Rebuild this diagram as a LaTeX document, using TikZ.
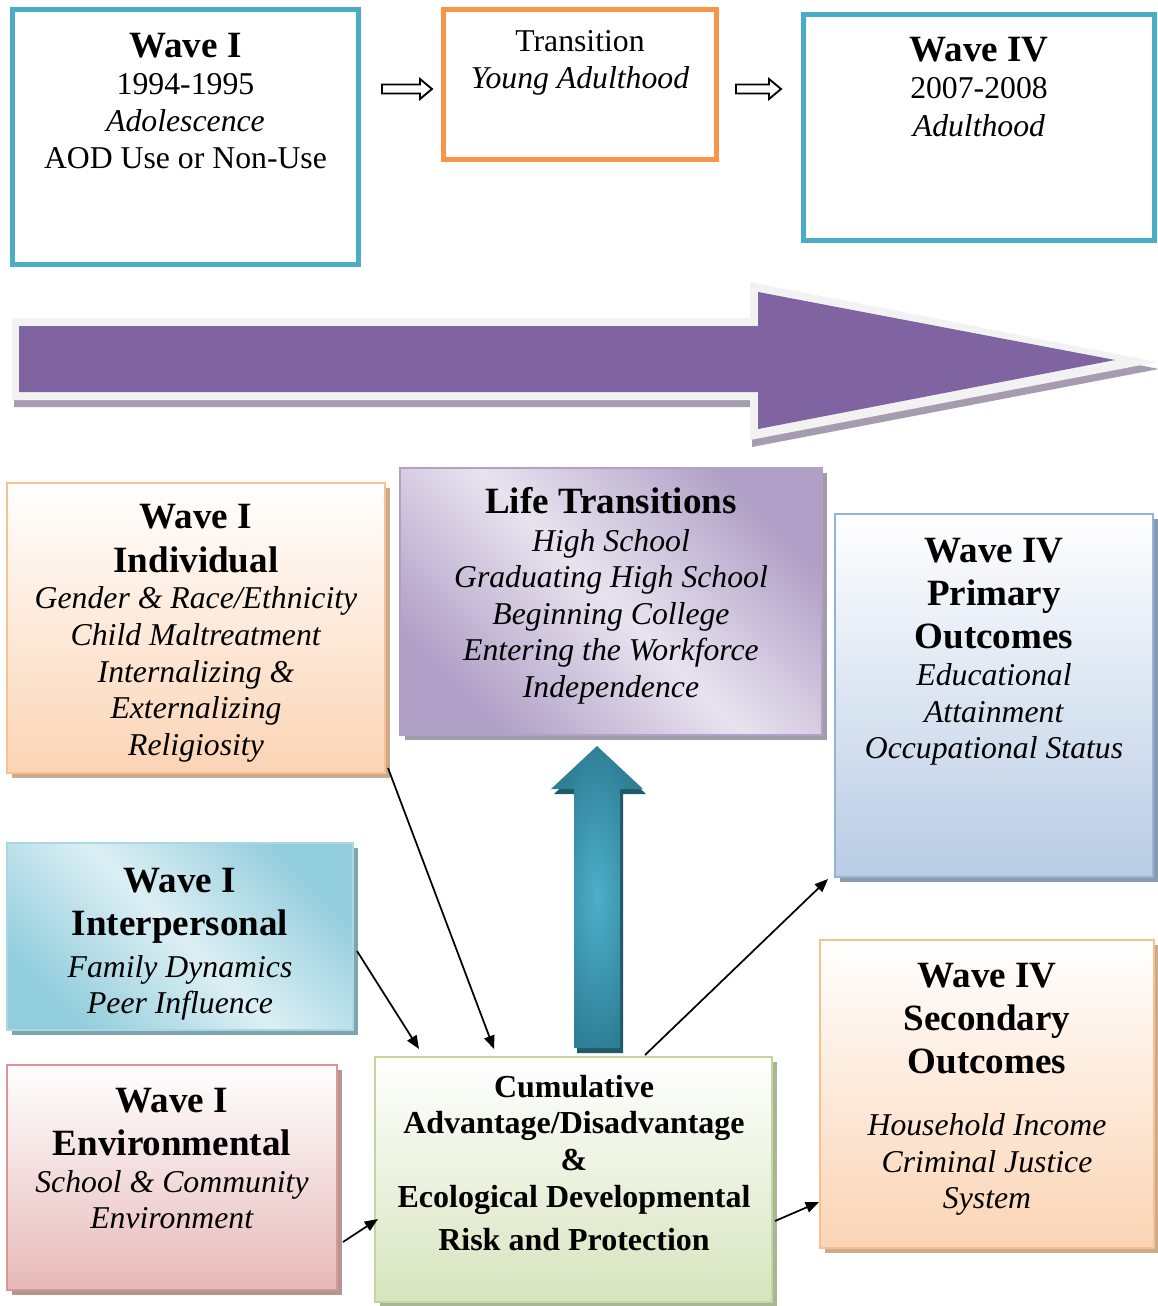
\documentclass[tikz,border=0pt]{standalone}
\usepackage{fontspec}
\setmainfont{Liberation Serif}
\usetikzlibrary{arrows.meta,shadows,fit}
\definecolor{tealB}{HTML}{4BACC6}
\definecolor{oranB}{HTML}{F79646}
\definecolor{purF}{HTML}{8064A2}
\definecolor{purO}{HTML}{F2F2F2}
\definecolor{purS}{HTML}{A59DAF}
\definecolor{indB}{HTML}{FAC090}
\definecolor{indF}{HTML}{FBD4B4}
\definecolor{indS}{HTML}{CDAA8C}
\definecolor{lifB}{HTML}{B2A1C7}
\definecolor{lifL}{HTML}{E8E3EF}
\definecolor{lifD}{HTML}{B09FC6}
\definecolor{lifS}{HTML}{A29BAA}
\definecolor{priB}{HTML}{95B3D7}
\definecolor{priF}{HTML}{B8CCE4}
\definecolor{priS}{HTML}{8C9AAE}
\definecolor{intB}{HTML}{A9D8E4}
\definecolor{intL}{HTML}{DCEFF4}
\definecolor{intD}{HTML}{92CDDC}
\definecolor{intS}{HTML}{80A4AE}
\definecolor{envB}{HTML}{D99694}
\definecolor{envF}{HTML}{E6B9B8}
\definecolor{envS}{HTML}{B39594}
\definecolor{cumB}{HTML}{C3D69B}
\definecolor{cumF}{HTML}{D7E4BD}
\definecolor{cumS}{HTML}{A9B596}
\definecolor{tealD}{HTML}{2F8097}
\definecolor{tealL}{HTML}{4DAFC9}
\definecolor{tealS}{HTML}{215968}
\newcommand\myHdr{\fontsize{27.8}{27.75}\selectfont\bfseries}
\newcommand\myBody{\fontsize{23.8}{27.75}\selectfont}
\newcommand\myCum{\fontsize{24}{27.75}\selectfont\bfseries}
\newcommand\tstr{\rule{0pt}{22pt}}
\begin{document}
\begin{tikzpicture}[x=0.75pt,y=-0.75pt,
  topbox/.style={line width=3.75pt, inner sep=0pt, outer sep=0pt, fill=white},
  lbox/.style={line width=1.6pt, inner sep=0pt, outer sep=0pt},
  shad/.style={drop shadow={shadow xshift=3.5pt, shadow yshift=-4pt, fill=#1, opacity=1}},
  txt/.style={align=center, inner sep=0pt, outer sep=0pt, anchor=north, font=\myBody},
  con/.style={line width=1.3pt, -{Triangle[length=10pt,width=8pt]}},
  hollow/.style={line width=1.4pt, draw=black, fill=white}]
\fill[white] (0,0) rectangle (1157,1306);
\useasboundingbox (0,0) rectangle (1157,1306);

% ---------- top row ----------
\node[topbox, draw=tealB, fit={(12.5,9.5)(358.5,264.5)}] (w1) {};
\node[topbox, draw=oranB, fit={(443.5,9.5)(716.5,159.5)}] (tr) {};
\node[topbox, draw=tealB, fit={(803.5,14.5)(1154.5,240.5)}] (w4) {};

\node[txt] (w1T) at (185.5,27.7) {\tstr{\myHdr Wave I}\\1994-1995\\\textit{Adolescence}\\AOD Use or Non-Use};
\node[txt] (trT) at (580,21.7) {\tstr Transition\\\textit{Young Adulthood}};
\node[txt] (w4T) at (979,31.7) {\tstr{\myHdr Wave IV}\\2007-2008\\[0.75pt]\textit{Adulthood}};

\draw[hollow] (382,84.5) -- (420,84.5) -- (420,79) -- (432,89) -- (420,99) -- (420,93.5) -- (382,93.5) -- cycle;
\draw[hollow] (736,84.5) -- (769,84.5) -- (769,79) -- (781,89) -- (769,99) -- (769,93.5) -- (736,93.5) -- cycle;

% ---------- big purple arrow ----------
\begin{scope}[shift={(2,7)}]
\fill[purS] (12,318) -- (750,318) -- (750,282) -- (1157,362) -- (750,440) -- (750,400) -- (12,400) -- cycle;
\end{scope}
\fill[purO] (12,318) -- (750,318) -- (750,282) -- (1157,362) -- (750,440) -- (750,400) -- (12,400) -- cycle;
\fill[purF] (19,326) -- (758,326) -- (758,292) -- (1115,360) -- (758,429) -- (758,392) -- (19,392) -- cycle;

% ---------- lower boxes ----------
\node[lbox, shad=indS, draw=indB, top color=white, bottom color=indF, fit={(7,483)(385,773)}] (ind) {};
\node[lbox, shad=lifS, draw=lifB, top color=lifD, bottom color=lifD, middle color=lifL, shading angle=-45, fit={(400,468)(822,735)}] (lif) {};
\node[lbox, shad=priS, draw=priB, top color=white, bottom color=priF, fit={(835,514)(1153,877)}] (pri) {};
\node[lbox, shad=intS, draw=intB, top color=intD, bottom color=intD, middle color=intL, shading angle=-45, fit={(7,843)(353,1030)}] (int) {};
\node[lbox, shad=envS, draw=envB, top color=white, bottom color=envF, fit={(7,1065)(337,1290)}] (env) {};
\node[lbox, shad=cumS, draw=cumB, top color=white, bottom color=cumF, fit={(375,1057)(772,1302)}] (cum) {};
\node[lbox, shad=indS, draw=indB, top color=white, bottom color=indF, fit={(820,940)(1154,1248)}] (sec) {};

\node[txt] (indT) at (196,498.7) {\tstr{\myHdr Wave I}\\[5.25pt]{\myHdr Individual}\\[-0.75pt]\textit{Gender \& Race/Ethnicity}\\\textit{Child Maltreatment}\\\textit{Internalizing \&}\\[-0.75pt]\textit{Externalizing}\\\textit{Religiosity}};
\node[txt] (lifT) at (611,483.7) {\tstr{\myHdr Life Transitions}\\[0.75pt]\textit{High School}\\[-0.75pt]\textit{Graduating High School}\\\textit{Beginning College}\\[-0.75pt]\textit{Entering the Workforce}\\\textit{Independence}};
\node[txt] (priT) at (994,532.7) {\tstr{\myHdr Wave IV}\\[4.5pt]{\myHdr Primary}\\[4.5pt]{\myHdr Outcomes}\\\textit{Educational}\\\textit{Attainment}\\[-0.75pt]\textit{Occupational Status}};
\node[txt] (intT) at (180,862.7) {\tstr{\myHdr Wave I}\\[4.5pt]{\myHdr Interpersonal}\\[3.75pt]\textit{Family Dynamics}\\[-0.75pt]\textit{Peer Influence}};
\node[txt] (envT) at (172,1082.7) {\tstr{\myHdr Wave I}\\[4.5pt]{\myHdr Environmental}\\\textit{School \& Community}\\[-0.75pt]\textit{Environment}};
\node[txt, font=\myCum] (cumT) at (574,1067.7) {\tstr Cumulative\\[-0.75pt]Advantage/Disadvantage\\\&\\Ecological Developmental\\[4.5pt]Risk and Protection};
\node[txt] (secT) at (987,957.7) {\tstr{\myHdr Wave IV}\\[4.5pt]{\myHdr Secondary}\\[4.5pt]{\myHdr Outcomes}\\[18.75pt]\textit{Household Income}\\\textit{Criminal Justice}\\[-0.75pt]\textit{System}};

% ---------- teal up arrow ----------
\begin{scope}[shift={(3,5)}]
\fill[tealS] (597,746) -- (643,789) -- (620,789) -- (620,1048) -- (574,1048) -- (574,789) -- (551,789) -- cycle;
\end{scope}
\shade[inner color=tealL, outer color=tealD] (597,746) -- (643,789) -- (620,789) -- (620,1048) -- (574,1048) -- (574,789) -- (551,789) -- cycle;

% ---------- connectors ----------
\coordinate (c1a) at (388,768);  \coordinate (c1b) at (494,1049);
\coordinate (c2a) at (357,951);  \coordinate (c2b) at (419,1049);
\coordinate (c3a) at (343,1242); \coordinate (c3b) at (378,1219);
\coordinate (c4a) at (645,1055); \coordinate (c4b) at (828,879);
\coordinate (c5a) at (775,1221); \coordinate (c5b) at (819,1202);
\draw[con] (c1a) -- (c1b);
\draw[con] (c2a) -- (c2b);
\draw[con] (c3a) -- (c3b);
\draw[con] (c4a) -- (c4b);
\draw[con] (c5a) -- (c5b);
\end{tikzpicture}
\end{document}
